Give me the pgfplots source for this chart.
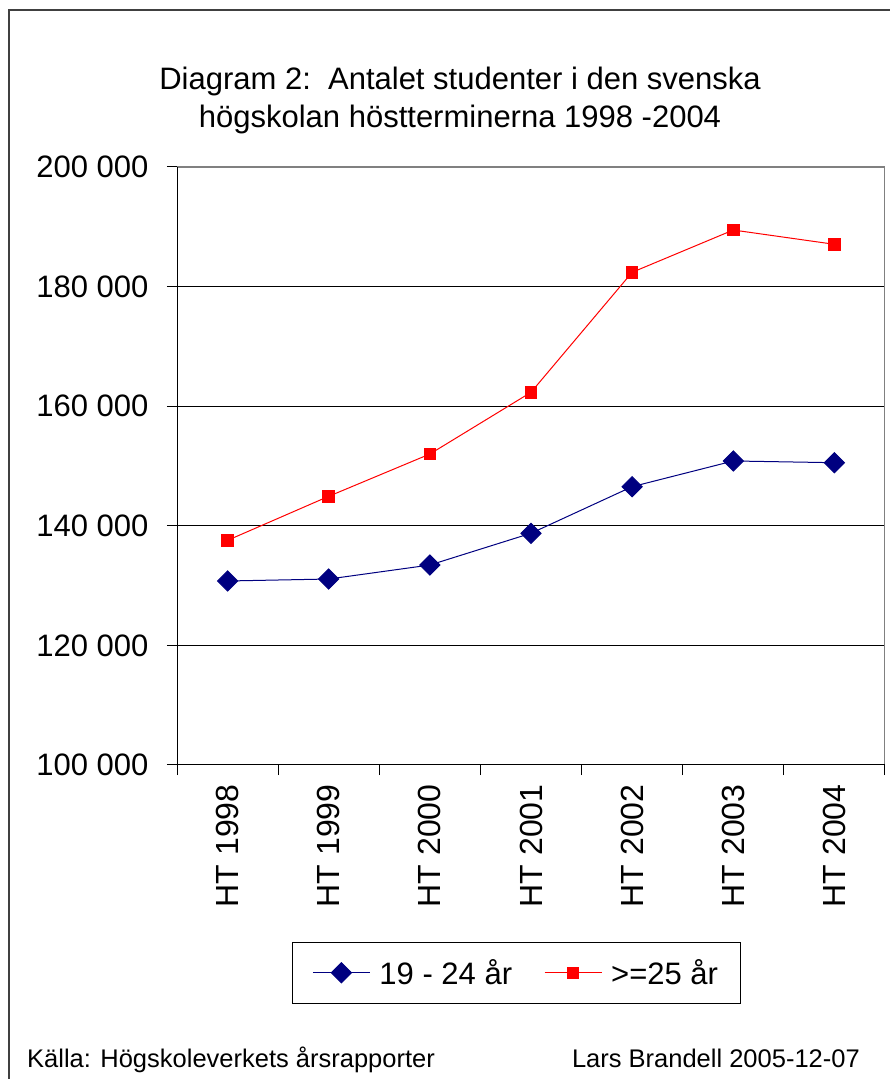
\documentclass[border=0pt]{standalone}
\usepackage{fontspec}
\setmainfont{Liberation Sans}
\usepackage{pgfplots}
\pgfplotsset{compat=1.18}
\definecolor{navyblue}{RGB}{0,0,128}
\definecolor{framegray}{RGB}{64,64,64}
\definecolor{bordergray}{RGB}{128,128,128}

\begin{document}
\begin{tikzpicture}[x=1pt,y=1pt]
\useasboundingbox (0,0) rectangle (889,1079);
\fill[white] (0,0) rectangle (889,1079);
\draw[framegray, line width=1.5pt] (9,-20) -- (9,1069) -- (920,1069);
\node[anchor=base, font=\fontsize{31}{37}\selectfont] at (460,989) {Diagram 2:\ \ Antalet studenter i den svenska};
\node[anchor=base, font=\fontsize{31}{37}\selectfont] at (460,951) {högskolan höstterminerna 1998 -2004};
\node[anchor=base west, font=\fontsize{25.5}{30}\selectfont, inner sep=0pt] at (27,11) {Källa: Högskoleverkets årsrapporter};
\node[anchor=base east, font=\fontsize{25.5}{30}\selectfont, inner sep=0pt] at (860,11) {Lars Brandell 2005-12-07};

\begin{axis}[
  at={(177pt,314pt)}, anchor=south west,
  scale only axis, width=708pt, height=598pt,
  xmin=-0.5, xmax=6.5, ymin=100000, ymax=200000,
  axis line style={draw=none},
  ytick={100000,120000,140000,160000,180000,200000},
  scaled y ticks=false,
  yticklabel={\pgfmathprintnumber[fixed,precision=0,1000 sep={\ },assume math mode=true]{\tick}},
  yticklabel style={font=\fontsize{31}{37}\selectfont},
  yticklabel shift=15pt,
  ymajorgrids, grid style={black, line width=1pt},
  tick align=outside, major tick length=10pt,
  tick style={black, line width=1pt},
  xtick pos=left, ytick pos=left,
  xtick={-0.5,0.5,1.5,2.5,3.5,4.5,5.5,6.5},
  xticklabels={},
  extra x ticks={0,1,2,3,4,5,6},
  extra x tick labels={HT 1998,HT 1999,HT 2000,HT 2001,HT 2002,HT 2003,HT 2004},
  extra x tick style={major tick length=0pt, xticklabel shift=16pt, tick label style={rotate=90, anchor=east, font=\fontsize{32}{37}\selectfont}},
  legend style={at={(0.1624,-0.296)}, anchor=north west, draw=black, line width=1pt,
    font=\fontsize{31}{37}\selectfont, legend columns=2,
    /tikz/every odd column/.append style={column sep=7pt},
    /tikz/every even column/.append style={column sep=30pt},
    inner xsep=20pt, inner ysep=15pt},
  legend image code/.code={\draw[mark repeat=2,mark phase=2,#1] plot coordinates {(0pt,0pt) (28.5pt,0pt) (57pt,0pt)};},
]
\addplot[navyblue, line width=1pt, mark=square*, mark size=7.1pt, mark options={fill=navyblue, draw=navyblue, rotate=45}]
  coordinates {(0,130770) (1,131100) (2,133440) (3,138750) (4,146540) (5,150840) (6,150550)};
\addlegendentry{19 - 24 år}
\addplot[red, line width=1pt, mark=square*, mark size=5.75pt, mark options={fill=red, draw=red}]
  coordinates {(0,137570) (1,144930) (2,152000) (3,162320) (4,182390) (5,189460) (6,187070)};
\addlegendentry{>=25 år}
\draw[bordergray, line width=1.5pt] (rel axis cs:0,1) -- (rel axis cs:1,1) -- (rel axis cs:1,0);
\draw[black, line width=1pt] (rel axis cs:0,1) -- (rel axis cs:0,0) -- (rel axis cs:1,0);
\end{axis}
\end{tikzpicture}
\end{document}
